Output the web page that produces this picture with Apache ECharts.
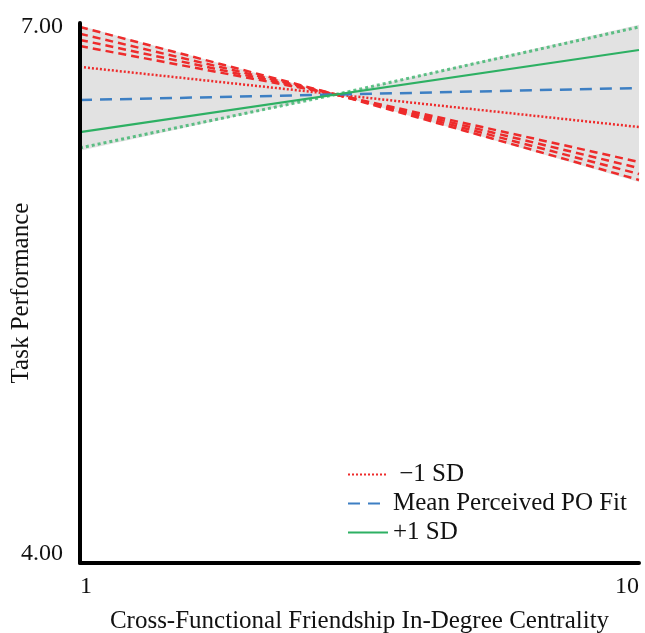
<!DOCTYPE html>
<html>
<head>
<meta charset="utf-8">
<script src="https://cdn.jsdelivr.net/npm/echarts@6/dist/echarts.min.js"></script>
<style>html,body{margin:0;padding:0;background:#fff}#chart{width:645px;height:633px}</style>
</head>
<body>
<div id="chart"></div>
<script>
// ---- data ----
var xEnds = [1, 10];
var crossX = 5.12;
var crossY = 6.603;
var lowSD = [6.756, 6.422];        // -1 SD
var meanFit = [6.572, 6.639];      // Mean Perceived PO Fit
var highSD = [6.394, 6.85];        // +1 SD
var bandX = [1, crossX, 10];
var bandLower = [6.29, crossY, 6.117];
var bandUpper = [6.985, crossY, 6.99];
var redCILeft = [6.978, 6.94, 6.906, 6.872];   // at x = 1, converge to cross
var redCIRight = [6.228, 6.194, 6.161, 6.128]; // at x = 10, from cross
var greenCILeft = 6.306;   // at x = 1
var greenCIRight = 6.978;  // at x = 10
var xTicks = [1, 10];
var yTicks = [4, 7];

var RED = '#ee2b2b', BLUE = '#3d7fc3', GREEN = '#2db063', GRAY = '#e2e2e2';
var FONT = 'Liberation Serif';

function pairs(xs, ys) { return xs.map(function (x, i) { return [x, ys[i]]; }); }

var series = [];
// gray band: upper area filled gray down to axis, lower area filled white on top
series.push({
  type: 'line', symbol: 'none', silent: true, z: 1,
  data: pairs(bandX, bandUpper), lineStyle: { width: 0, opacity: 0 },
  areaStyle: { color: GRAY, opacity: 1, origin: 'start' }
});
series.push({
  type: 'line', symbol: 'none', silent: true, z: 1,
  data: pairs(bandX, bandLower), lineStyle: { width: 0, opacity: 0 },
  areaStyle: { color: '#ffffff', opacity: 1, origin: 'start' }
});
// red CI bundles
redCILeft.forEach(function (v) {
  series.push({ type: 'line', symbol: 'none', silent: true, z: 2,
    data: [[xEnds[0], v], [crossX, crossY]],
    lineStyle: { color: RED, width: 2.5, type: [8, 5] } });
});
redCIRight.forEach(function (v) {
  series.push({ type: 'line', symbol: 'none', silent: true, z: 2,
    data: [[crossX, crossY], [xEnds[1], v]],
    lineStyle: { color: RED, width: 2.5, type: [8, 5] } });
});
// green CI (x-marked look)
series.push({ type: 'line', symbol: 'none', silent: true, z: 2,
  data: [[xEnds[0], greenCILeft], [crossX, crossY]],
  lineStyle: { color: GREEN, width: 3, type: [3, 3], opacity: 0.75 } });
series.push({ type: 'line', symbol: 'none', silent: true, z: 2,
  data: [[crossX, crossY], [xEnds[1], greenCIRight]],
  lineStyle: { color: GREEN, width: 3, type: [3, 3], opacity: 0.75 } });
// main lines
series.push({ name: '\u00a0\u22121 SD', type: 'line', symbol: 'none', z: 3,
  data: pairs(xEnds, lowSD), color: RED,
  lineStyle: { color: RED, width: 2.5, type: [2, 2] } });
series.push({ name: 'Mean Perceived PO Fit', type: 'line', symbol: 'none', z: 3,
  data: pairs(xEnds, meanFit), color: BLUE,
  lineStyle: { color: BLUE, width: 2.5, type: [12, 8] } });
series.push({ name: '+1 SD', type: 'line', symbol: 'none', z: 3,
  data: pairs(xEnds, highSD), color: GREEN,
  lineStyle: { color: GREEN, width: 2.2, type: 'solid' } });

var chart = echarts.init(document.getElementById('chart'), null, { renderer: 'canvas' });
chart.setOption({
  animation: false,
  backgroundColor: '#fff',
  textStyle: { fontFamily: FONT },
  grid: { left: 80, right: 6, top: 23, bottom: 70, containLabel: false, outerBoundsMode: 'none' },
  legend: {
    data: ['\u00a0\u22121 SD', 'Mean Perceived PO Fit', '+1 SD'],
    orient: 'vertical', left: 342, top: 457,
    itemWidth: 40, itemHeight: 14, itemGap: 4,
    itemStyle: { opacity: 0 },
    textStyle: { fontFamily: FONT, fontSize: 25, color: '#111' }
  },
  xAxis: {
    type: 'value', min: 1, max: 10, z: 10,
    name: 'Cross-Functional Friendship In-Degree Centrality',
    nameLocation: 'middle', nameGap: 46, nameMoveOverlap: false,
    nameTextStyle: { fontFamily: FONT, fontSize: 25, color: '#111' },
    axisLine: { show: true, lineStyle: { color: '#000', width: 4 } },
    axisTick: { show: false },
    splitLine: { show: false },
    axisLabel: { customValues: xTicks, fontFamily: FONT, fontSize: 24, color: '#111', margin: 12,
      alignMinLabel: 'left', alignMaxLabel: 'right' }
  },
  yAxis: {
    type: 'value', min: 4, max: 7, z: 10,
    name: 'Task Performance', nameLocation: 'middle', nameGap: 46, nameMoveOverlap: false,
    nameTextStyle: { fontFamily: FONT, fontSize: 25, color: '#111' },
    axisLine: { show: true, lineStyle: { color: '#000', width: 4 } },
    axisTick: { show: false },
    splitLine: { show: false },
    axisLabel: { customValues: yTicks, fontFamily: FONT, fontSize: 24, color: '#111', margin: 17,
      formatter: function (v) { return v === 4 ? '{lo|' + v.toFixed(2) + '}' : '{hi|' + v.toFixed(2) + '}'; },
      rich: {
        lo: { fontFamily: FONT, fontSize: 24, color: '#111', padding: [0, 0, 18, 0] },
        hi: { fontFamily: FONT, fontSize: 24, color: '#111', padding: [8, 0, 0, 0] }
      } }
  },
  series: series
});
</script>
</body>
</html>
